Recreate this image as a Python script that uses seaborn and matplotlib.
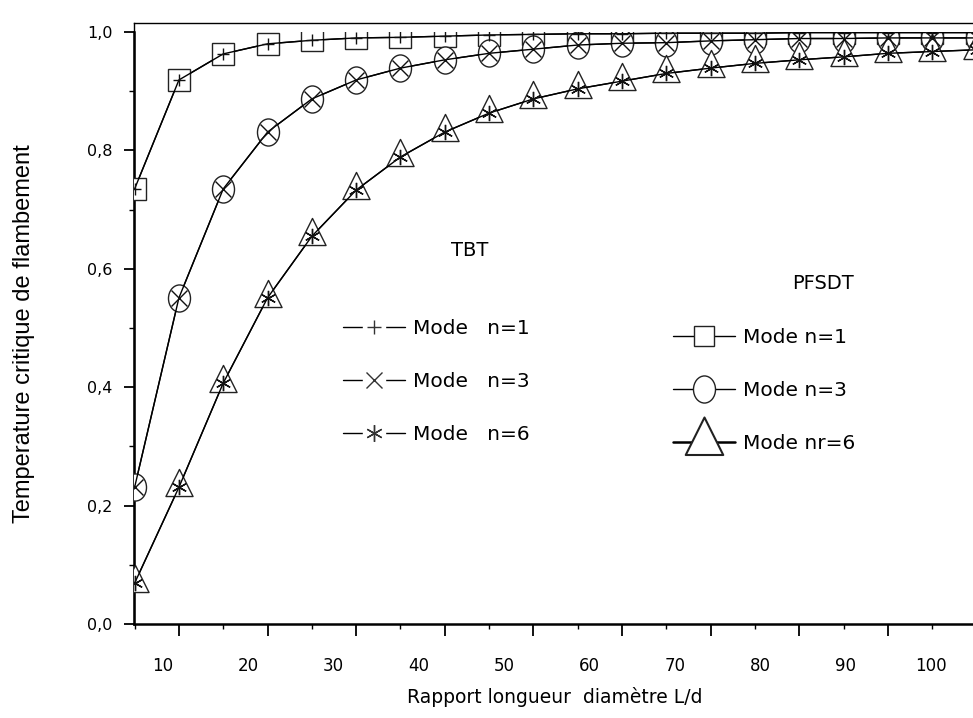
import numpy as np
import pandas as pd
import seaborn as sns
import matplotlib
matplotlib.use("Agg")
import matplotlib.pyplot as plt
from matplotlib.lines import Line2D
from matplotlib.path import Path
from matplotlib.transforms import Affine2D
from matplotlib.legend_handler import HandlerTuple

sns.set_theme(style="white")
plt.rcParams['font.family'] = ['DejaVu Sans']
plt.rcParams.update({"text.color": "black", "axes.labelcolor": "black",
                     "xtick.color": "black", "ytick.color": "black"})

# ---------------- data ----------------
ld_ratio = [5, 10, 15, 20, 25, 30, 35, 40, 45, 50, 55, 60, 65, 70, 75, 80, 85, 90, 95, 100]
mode_n1 = [0.735, 0.919, 0.963, 0.980, 0.986, 0.990, 0.991, 0.993, 0.995, 0.996,
           0.997, 0.997, 0.998, 0.998, 0.998, 0.999, 0.999, 0.999, 0.999, 0.999]
mode_n3 = [0.231, 0.551, 0.735, 0.831, 0.887, 0.919, 0.939, 0.953, 0.964, 0.971,
           0.978, 0.981, 0.982, 0.985, 0.987, 0.989, 0.989, 0.990, 0.990, 0.990]
mode_n6 = [0.069, 0.231, 0.407, 0.551, 0.655, 0.733, 0.789, 0.831, 0.863, 0.887,
           0.904, 0.917, 0.930, 0.939, 0.947, 0.953, 0.958, 0.964, 0.967, 0.970]
x_tick_labels = ["10", "20", "30", "40", "50", "60", "70", "80", "90", "100"]
y_tick_values = [0.0, 0.2, 0.4, 0.6, 0.8, 1.0]
y_tick_labels = ["0,0", "0,2", "0,4", "0,6", "0,8", "1,0"]
tbt_labels = ["Mode   n=1", "Mode   n=3", "Mode   n=6"]
pfsdt_labels = ["Mode n=1", "Mode n=3", "Mode nr=6"]

df = pd.DataFrame({"L/d": ld_ratio, "n1": mode_n1, "n3": mode_n3, "n6": mode_n6})

# marker shapes: triangle centred on its centroid, slightly tall ellipse
tri_marker = Path([(0, 2), (-1.5, -1), (1.5, -1), (0, 2)],
                  [Path.MOVETO, Path.LINETO, Path.LINETO, Path.CLOSEPOLY])
ell_marker = Affine2D().scale(1.0, 1.23).transform_path(Path.unit_circle())

W, H = 973, 718
fig = plt.figure(figsize=(W / 100, H / 100), dpi=100)

x0, x1 = 134, 973
ytop_frame, ytop, ybot = 23, 32, 624

# thin outer frame (top line)
frame = fig.add_axes([x0 / W, 1 - ybot / H, (x1 - x0) / W, (ybot - ytop_frame) / H])
frame.set_xticks([]); frame.set_yticks([])
frame.patch.set_alpha(0)
for s in ["right", "bottom"]:
    frame.spines[s].set_visible(False)
for s in ["top", "left"]:
    frame.spines[s].set_color("black")
    frame.spines[s].set_linewidth(1.0)

ax = fig.add_axes([x0 / W, 1 - ybot / H, (x1 - x0) / W, (ybot - ytop) / H])
ax.patch.set_alpha(0)

lw = 1.0
edge = "#222222"
# PFSDT (open markers)
pf_styles = [("n1", "s", 15.5), ("n3", ell_marker, 19.5), ("n6", tri_marker, 26)]
for col, mk, ms in pf_styles:
    sns.lineplot(data=df, x="L/d", y=col, ax=ax, color="black", linewidth=lw,
                 marker=mk, markersize=ms, markerfacecolor="white",
                 markeredgecolor=edge, markeredgewidth=1.0, legend=False, zorder=3)
# TBT (markers inside)
tbt_styles = [("n1", "+", 9), ("n3", "x", 11.5), ("n6", (6, 2, 0), 11)]
for col, mk, ms in tbt_styles:
    sns.lineplot(data=df, x="L/d", y=col, ax=ax, color="black", linewidth=lw,
                 marker=mk, markersize=ms, markeredgecolor="#111111",
                 markeredgewidth=1.0, legend=False, zorder=4)

ax.set_xlim(4.93, 99.6)
ax.set_ylim(0, 1.0)

for s in ["top", "right"]:
    ax.spines[s].set_visible(False)
for s in ["left", "bottom"]:
    ax.spines[s].set_color("black")
    ax.spines[s].set_linewidth(1.8)

# y ticks
ax.set_yticks(y_tick_values)
ax.set_yticklabels(y_tick_labels)
ax.set_yticks(np.arange(0.1, 1.0, 0.2), minor=True)
ax.tick_params(axis="y", which="major", direction="out", length=7.5, width=1.3,
               left=True, labelsize=11.5, pad=8, colors="black")
ax.tick_params(axis="y", which="minor", direction="out", length=3.6, width=1.0, left=True)

# x ticks (marks only)
ax.set_xticks(np.arange(10, 100, 10))
ax.set_xticklabels([])
ax.set_xticks(np.arange(5, 100, 10), minor=True)
ax.tick_params(axis="x", which="major", direction="out", length=8.5, width=1.3, bottom=True)
ax.tick_params(axis="x", which="minor", direction="out", length=3.6, width=1.0, bottom=True)

# x tick labels, placed as in the reference (slightly compressed scale)
label_vals = np.arange(10, 101, 10)
label_pos = 0.963 * label_vals - 1.43
sec = ax.secondary_xaxis("bottom")
sec.set_xticks(label_pos)
sec.set_xticklabels(x_tick_labels)
sec.tick_params(length=0, pad=24, labelsize=12, colors="black")
sec.spines["bottom"].set_visible(False)

ax.set_xlabel("")
ax.set_ylabel("")
fig.text(555 / W, 1 - 697 / H, "Rapport longueur  diamètre L/d", ha="center", va="center",
         fontsize=13.5)
fig.text(24 / W, 1 - 334 / H, "Temperature critique de flambement", rotation=90,
         ha="center", va="center", fontsize=17,
         family=["Liberation Sans Narrow", "Liberation Sans", "DejaVu Sans"])

# legend titles
fig.text(470 / W, 1 - 250 / H, "TBT", ha="center", va="center", fontsize=14)
fig.text(823 / W, 1 - 283 / H, "PFSDT", ha="center", va="center", fontsize=14)

# legends
def gap_handle(mk, ms):
    mask = Line2D([], [], color="black", lw=1.0, marker="s", markersize=16,
                  markerfacecolor="white", markeredgecolor="white")
    mark = Line2D([], [], ls="none", marker=mk, markersize=ms,
                  markeredgecolor="#333333", markeredgewidth=1.0)
    return (mask, mark)

leg_fs = 14.5
tbt_handles = [gap_handle("+", 10), gap_handle("x", 12), gap_handle((6, 2, 0), 12)]
leg1 = fig.legend(tbt_handles, tbt_labels, frameon=False,
                  handler_map={tuple: HandlerTuple(ndivide=1, pad=0)},
                  loc="upper left", bbox_to_anchor=(343 / W, 1 - 319 / H),
                  bbox_transform=fig.transFigure, borderpad=0, borderaxespad=0,
                  fontsize=leg_fs, handlelength=3.1, labelspacing=1.7,
                  handletextpad=0.4)

pf_handles = [Line2D([], [], color="black", lw=1.0, marker="s", markersize=15,
                     markerfacecolor="white", markeredgecolor=edge),
              Line2D([], [], color="black", lw=1.0, marker=ell_marker, markersize=19.5,
                     markerfacecolor="white", markeredgecolor=edge),
              Line2D([], [], color="black", lw=1.8, marker=tri_marker, markersize=36,
                     markerfacecolor="white", markeredgecolor=edge, markeredgewidth=1.5)]
leg2 = fig.legend(pf_handles, pfsdt_labels, frameon=False,
                  loc="upper left", bbox_to_anchor=(673 / W, 1 - 328 / H),
                  bbox_transform=fig.transFigure, borderpad=0, borderaxespad=0,
                  fontsize=leg_fs, handlelength=3.1, labelspacing=1.68,
                  handletextpad=0.4)

fig.savefig("out.png", dpi=100)
